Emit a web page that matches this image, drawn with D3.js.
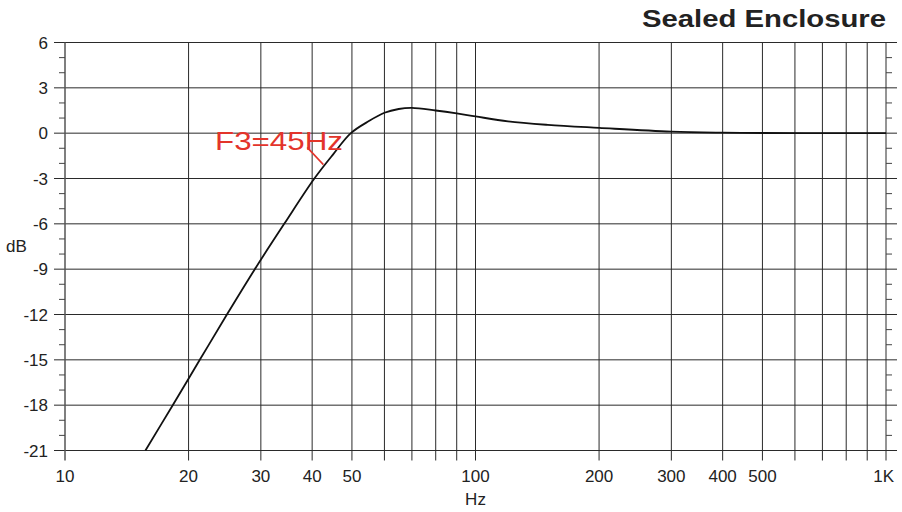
<!DOCTYPE html>
<html>
<head>
<meta charset="utf-8">
<script src="https://cdn.jsdelivr.net/npm/d3@7"></script>
<style>
  body { margin: 0; background: #fff; }
  text { font-family: "Liberation Sans", Arial, sans-serif; fill: #222; }
</style>
</head>
<body>
<script>
// response (Hz, dB)
var freqs = [15.7, 18.3, 21.3, 24.8, 29, 34.2, 40.5, 45, 49.7, 55, 60, 65, 70, 80, 90, 100, 120, 150, 200, 300, 400, 500, 700, 1000];
var levels = [-21, -18, -15, -12, -9, -6, -3, -1.4, 0, 0.8, 1.35, 1.6, 1.67, 1.5, 1.31, 1.11, 0.78, 0.55, 0.35, 0.1, 0.03, 0.01, 0, 0];

var dbTicks = [6, 3, 0, -3, -6, -9, -12, -15, -18, -21];
var minorTicks = [5, 4, 2, 1, -1, -2, -4, -5, -7, -8, -10, -11, -13, -14, -16, -17, -19, -20];
var gridFreqs = [20, 30, 40, 50, 60, 70, 80, 90, 100, 200, 300, 400, 500, 600, 700, 800, 900, 1000];
var freqLabels = [10, 20, 30, 40, 50, 100, 200, 300, 400, 500, 1000];

// annotation: leader line from/to (Hz, dB)
var noteText = "F3=45Hz";
var noteLine = [[38.9, -0.94], [42.6, -2.08]];

var width = 902, height = 512;

var svg = d3.select("body").append("svg")
    .attr("width", width)
    .attr("height", height);

var x = d3.scaleLog().domain([10, 1000]).range([65, 886]);
var y = d3.scaleLinear().domain([-21, 6]).range([450.5, 42.5]);

// horizontal grid, extends a little left and right
svg.append("g").selectAll("line")
  .data(dbTicks)
  .enter().append("line")
    .attr("x1", 54).attr("x2", 897)
    .attr("y1", d => y(d)).attr("y2", d => y(d))
    .attr("stroke", "#2a2a2a").attr("stroke-width", 1);

// vertical grid, extends below the plot
svg.append("g").selectAll("line")
  .data(gridFreqs)
  .enter().append("line")
    .attr("x1", d => x(d)).attr("x2", d => x(d))
    .attr("y1", y(6)).attr("y2", y(-21) + 10)
    .attr("stroke", "#2a2a2a").attr("stroke-width", 1);

// left axis line
svg.append("line")
    .attr("x1", x(10)).attr("x2", x(10))
    .attr("y1", y(6)).attr("y2", y(-21) + 10)
    .attr("stroke", "#555").attr("stroke-width", 1.5);

// minor ticks left and right
svg.append("g").selectAll("line")
  .data(minorTicks)
  .enter().append("line")
    .attr("x1", x(10) - 6).attr("x2", x(10))
    .attr("y1", d => y(d)).attr("y2", d => y(d))
    .attr("stroke", "#444");
svg.append("g").selectAll("line")
  .data(minorTicks)
  .enter().append("line")
    .attr("x1", x(1000)).attr("x2", x(1000) + 6)
    .attr("y1", d => y(d)).attr("y2", d => y(d))
    .attr("stroke", "#444");

// y labels
svg.append("g").selectAll("text")
  .data(dbTicks)
  .enter().append("text")
    .attr("x", 48)
    .attr("y", d => y(d) + 6)
    .attr("text-anchor", "end")
    .attr("font-size", 17)
    .text(d => d);

// x labels
svg.append("g").selectAll("text")
  .data(freqLabels)
  .enter().append("text")
    .attr("x", d => x(d))
    .attr("y", 482)
    .attr("text-anchor", d => d == 1000 ? "end" : "middle")
    .attr("dx", d => d == 1000 ? 8 : 0)
    .attr("font-size", 17)
    .text(d => d == 1000 ? "1K" : d);

svg.append("text")
    .attr("x", x(100)).attr("y", 505)
    .attr("text-anchor", "middle")
    .attr("font-size", 17)
    .text("Hz");

svg.append("text")
    .attr("x", 6).attr("y", 252)
    .attr("font-size", 17)
    .text("dB");

// title
svg.append("text")
    .attr("x", 642).attr("y", 27)
    .attr("font-size", 24)
    .attr("font-weight", "bold")
    .attr("textLength", 244)
    .attr("lengthAdjust", "spacingAndGlyphs")
    .text("Sealed Enclosure");

// response curve
var line = d3.line()
    .x(d => x(d[0]))
    .y(d => y(d[1]))
    .curve(d3.curveCatmullRom.alpha(0.5));

svg.append("path")
    .datum(freqs.map((f, i) => [f, levels[i]]))
    .attr("d", line)
    .attr("fill", "none")
    .attr("stroke", "#111")
    .attr("stroke-width", 1.8);

// F3 annotation
svg.append("path")
    .datum(noteLine)
    .attr("d", d3.line().x(d => x(d[0])).y(d => y(d[1])))
    .attr("fill", "none")
    .attr("stroke", "#e3342b")
    .attr("stroke-width", 1.6);

svg.append("text")
    .attr("x", 215).attr("y", 149.5)
    .attr("font-size", 26)
    .attr("textLength", 128)
    .attr("lengthAdjust", "spacingAndGlyphs")
    .style("fill", "#e3342b")
    .text(noteText);
</script>
</body>
</html>
